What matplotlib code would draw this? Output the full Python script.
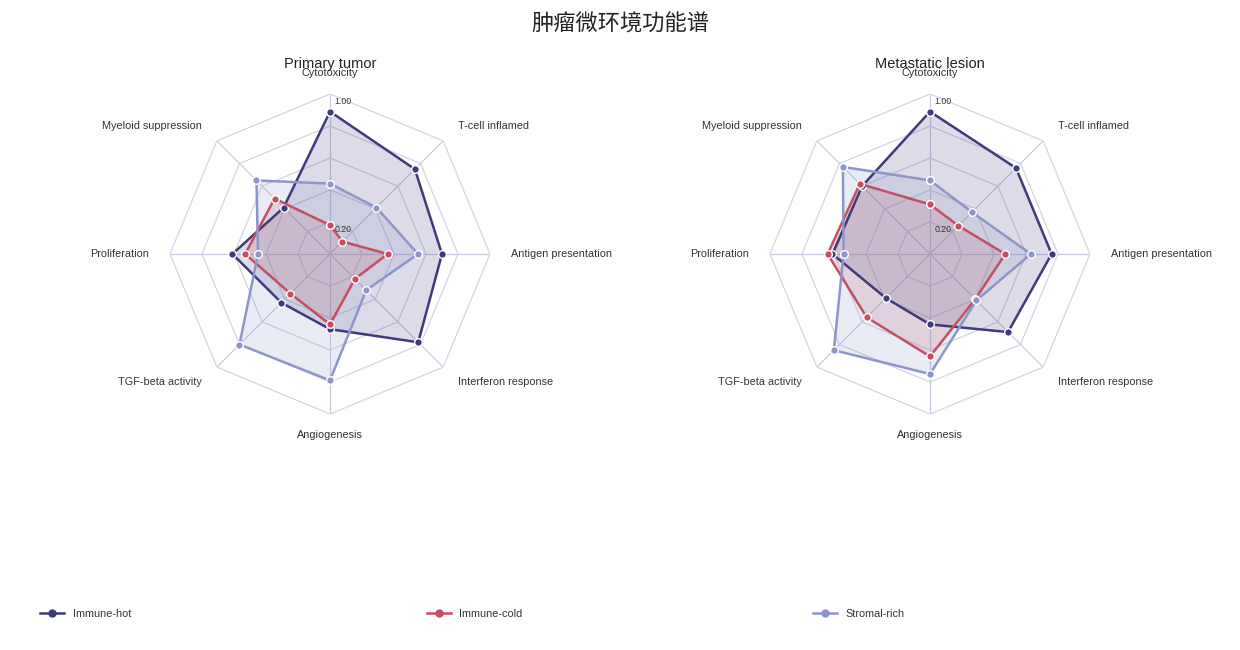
import numpy as np
import matplotlib
matplotlib.use("Agg")
import matplotlib.pyplot as plt
from matplotlib.lines import Line2D

plt.rcParams['font.family'] = ['Liberation Sans', 'Noto Sans CJK SC', 'DejaVu Sans']

# axes of the radar, clockwise from top
dims = ['Cytotoxicity', 'T-cell inflamed', 'Antigen presentation', 'Interferon response',
        'Angiogenesis', 'TGF-beta activity', 'Proliferation', 'Myeloid suppression']

groups = ['Immune-hot', 'Immune-cold', 'Stromal-rich']
colors = ['#3e3b7b', '#c44f63', '#8e96c9']

# Primary tumor scores
primary_hot = [0.89, 0.75, 0.70, 0.78, 0.47, 0.43, 0.61, 0.41]
primary_cold = [0.18, 0.11, 0.36, 0.22, 0.44, 0.35, 0.53, 0.49]
primary_stromal = [0.44, 0.41, 0.55, 0.32, 0.79, 0.80, 0.45, 0.65]

# Metastatic lesion scores
meta_hot = [0.89, 0.76, 0.76, 0.69, 0.44, 0.39, 0.61, 0.60]
meta_cold = [0.31, 0.25, 0.47, 0.40, 0.64, 0.56, 0.64, 0.62]
meta_stromal = [0.46, 0.37, 0.63, 0.41, 0.75, 0.85, 0.54, 0.77]

panels = [
    ('Primary tumor', [primary_hot, primary_cold, primary_stromal]),
    ('Metastatic lesion', [meta_hot, meta_cold, meta_stromal]),
]

rings = [0.2, 0.4, 0.6, 0.8, 1.0]
grid_col = '#d3d5e6'

W, H = 1240, 650
fig = plt.figure(figsize=(12.4, 6.5), dpi=100)
fig.text(0.5, 1 - 25 / H, '肿瘤微环境功能谱', ha='center', va='center', fontsize=16, color='#222222')

n = len(dims)
ang = np.arange(n) * 2 * np.pi / n
ang_c = np.append(ang, ang[0])

centers = [330, 930]
R = 160
for (title, series), cx in zip(panels, centers):
    cy = 254
    ax = fig.add_axes([(cx - R) / W, (H - cy - R) / H, 2 * R / W, 2 * R / H], projection='polar')
    ax.set_theta_zero_location('N')
    ax.set_theta_direction(-1)
    ax.set_ylim(0, 1)
    ax.grid(False)
    ax.spines['polar'].set_visible(False)
    ax.set_xticks([])
    ax.set_yticks([])
    ax.patch.set_alpha(0)

    for r in rings:
        ax.plot(ang_c, [r] * (n + 1), color=grid_col, lw=0.9, zorder=1)
    for a in ang:
        ax.plot([a, a], [0, 1], color='#c9cbe0', lw=0.9, zorder=1)

    for vals, col in zip(series, colors):
        v = np.append(vals, vals[0])
        ax.fill(ang_c, v, color=col, alpha=0.18, lw=0, zorder=2)
        ax.plot(ang_c, v, color=col, lw=1.8, zorder=3, marker='o', markersize=5.5,
                markeredgecolor='white', markeredgewidth=1.0)

    for a, lab in zip(ang, dims):
        s = np.sin(a)
        if abs(s) < 1e-6:
            ha = 'center'
        elif s > 0:
            ha = 'left'
        else:
            ha = 'right'
        ax.text(a, 1.13, lab, ha=ha, va='center', fontsize=7.8, color='#333333')

    for r, t in [(1.0, '1.00'), (0.2, '0.20')]:
        ax.annotate(t, xy=(0, r), xytext=(3, -2), textcoords='offset points',
                    ha='left', va='top', fontsize=6.3, color='#333333')

    fig.text(cx / W, 1 - 64 / H, title, ha='center', va='center', fontsize=10.5, color='#222222')

for g, col, x in zip(groups, colors, [40, 427, 813]):
    h = Line2D([], [], color=col, lw=1.8, marker='o', markersize=5,
               markeredgecolor=col)
    fig.legend(handles=[h], labels=[g], loc='center left', bbox_to_anchor=(x / W, 1 - 614 / H),
               frameon=False, fontsize=7.8, handlelength=2.2, handletextpad=0.8, borderpad=0,
               borderaxespad=0, labelcolor='#333333')

fig.savefig('out.png', dpi=100)
